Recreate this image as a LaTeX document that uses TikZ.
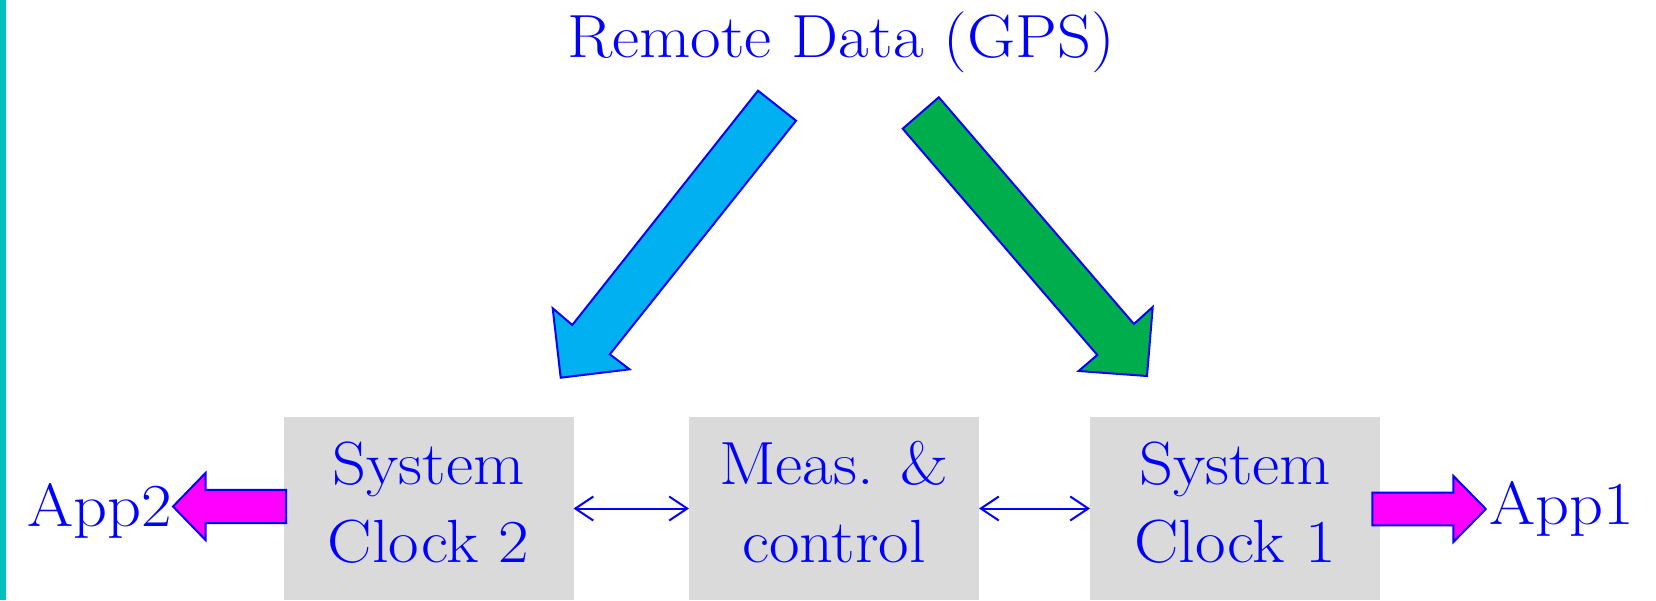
\documentclass[tikz,border=0pt]{standalone}
\usepackage{fontspec}
\setmainfont{Latin Modern Roman}[FakeStretch=1.09]
\usetikzlibrary{arrows.meta}
\definecolor{txtblue}{RGB}{0,0,255}
\definecolor{boxgray}{RGB}{218,218,218}
\definecolor{skyfill}{RGB}{0,176,240}
\definecolor{greenfill}{RGB}{0,173,77}
\definecolor{magfill}{RGB}{255,0,255}
\definecolor{edgeteal}{RGB}{0,192,192}

\begin{document}
\begin{tikzpicture}[x=1pt,y=-1pt,
  lbl/.style={text=txtblue, font=\fontsize{61}{78}\selectfont, inner sep=0pt, align=center},
  clockbox/.style={fill=boxgray, draw=none, minimum width=290pt, minimum height=183pt,
                   inner sep=0pt, outer sep=0pt},
  link/.style={draw=txtblue, line width=2pt,
               {Straight Barb[length=18pt,width=24pt]}-{Straight Barb[length=18pt,width=24pt]}},
  fatarrow/.style={draw=txtblue, line width=2pt, line join=miter},
]
\useasboundingbox (0,0) rectangle (1656,600);

% teal rule along the left edge
\fill[edgeteal] (0,0) rectangle (6,600);

% source label
\node[lbl, anchor=base] (gps) at (841,57) {Remote Data (GPS)};

% the three grey blocks
\node[clockbox] (clk2) at (428.5,508.5) {};
\node[clockbox] (meas) at (834,508.5) {};
\node[clockbox] (clk1) at (1235,508.5) {};

\node[lbl] (clk2txt) at (428.5,502.5) {System\\Clock 2};
\node[lbl] (meastxt) at (834,502.5) {Meas. \&\\control};
\node[lbl] (clk1txt) at (1235,502.5) {System\\Clock 1};

% measurement links
\draw[link] (clk2.east) -- (meas.west);
\draw[link] (meas.east) -- (clk1.west);

% remote data feeding each clock
\filldraw[fatarrow, fill=skyfill]
  (758,90.7) -- (796,120.7) -- (609.8,354.3) -- (629.5,369.3) -- (560.7,377.7)
  -- (552.7,308.3) -- (572.3,325) -- cycle;
\filldraw[fatarrow, fill=greenfill]
  (938.8,97.3) -- (1133.9,324) -- (1152.7,307) -- (1147,376) -- (1078.6,371)
  -- (1097.3,355) -- (902.7,128.7) -- cycle;

% application outputs
\filldraw[fatarrow, fill=magfill]
  (1372.3,492.7) -- (1453.4,492.7) -- (1453.4,476) -- (1485.8,509) -- (1453.4,542)
  -- (1453.4,525.3) -- (1372.3,525.3) -- cycle;
\filldraw[fatarrow, fill=magfill]
  (286,489.8) -- (205.5,489.8) -- (205.5,473) -- (173,506.5) -- (205.5,540)
  -- (205.5,523.2) -- (286,523.2) -- cycle;

\node[lbl, anchor=base west] (app1) at (1489,524) {App1};
\node[lbl, anchor=base east] (app2) at (172,526.5) {App2};
\end{tikzpicture}
\end{document}
